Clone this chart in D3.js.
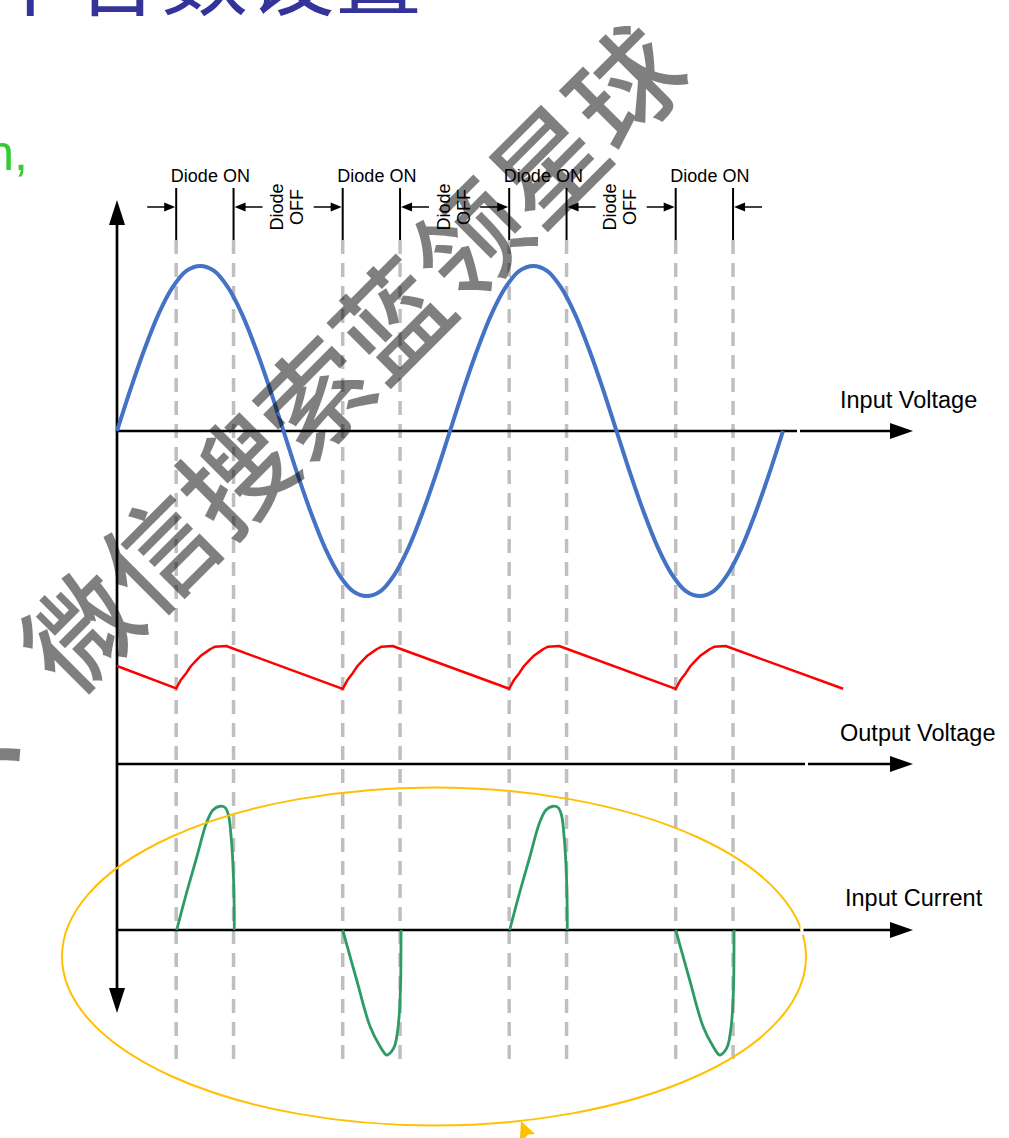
<!DOCTYPE html>
<html>
<head>
<meta charset="utf-8">
<script src="https://cdn.jsdelivr.net/npm/d3@7"></script>
<style>
  body { margin: 0; background: #fff; }
  svg { display: block; }
</style>
</head>
<body>
<svg id="chart" width="1009" height="1138"></svg>
<script>
// phase in degrees
const edges = [64, 126, 244, 306, 424, 486, 604, 666];
const onLabel = 'Diode ON';
const offLabel = ['Diode', 'OFF'];
const axisLabels = ['Input Voltage', 'Output Voltage', 'Input Current'];

const vinPhase = [0, 15, 30, 45, 60, 75, 90, 105, 120, 135, 150, 165, 180, 195, 210, 225, 240, 255, 270, 285, 300, 315, 330, 345,
  360, 375, 390, 405, 420, 435, 450, 465, 480, 495, 510, 525, 540, 555, 570, 585, 600, 615, 630, 645, 660, 675, 690, 705, 720];
const vinValues = [0, 0.26, 0.5, 0.71, 0.87, 0.97, 1, 0.97, 0.87, 0.71, 0.5, 0.26, 0, -0.26, -0.5, -0.71, -0.87, -0.97, -1, -0.97, -0.87, -0.71, -0.5, -0.26,
  0, 0.26, 0.5, 0.71, 0.87, 0.97, 1, 0.97, 0.87, 0.71, 0.5, 0.26, 0, -0.26, -0.5, -0.71, -0.87, -0.97, -1, -0.97, -0.87, -0.71, -0.5, -0.26, 0];

const voutPhase = [0,
  64, 69, 75, 80, 86, 91, 97, 101, 106, 118,
  244, 249, 255, 260, 266, 271, 277, 281, 286, 298,
  424, 429, 435, 440, 446, 451, 457, 461, 466, 478,
  604, 609, 615, 620, 626, 631, 637, 641, 646, 658,
  785];
const voutValues = [0.594,
  0.458, 0.509, 0.552, 0.594, 0.630, 0.658, 0.681, 0.697, 0.711, 0.715,
  0.455, 0.507, 0.552, 0.594, 0.630, 0.658, 0.681, 0.697, 0.711, 0.715,
  0.456, 0.508, 0.552, 0.594, 0.630, 0.658, 0.681, 0.697, 0.711, 0.715,
  0.455, 0.507, 0.552, 0.594, 0.630, 0.658, 0.681, 0.697, 0.711, 0.715,
  0.456];

const pulsePhase = [
  [64.5, 75.3, 86.1, 96.9, 103.8, 111.4, 116.8, 120.5, 123.2, 125.4, 126.5, 126.8],
  [244, 259.1, 273.5, 284.3, 291.6, 297, 300.5, 303.5, 305.2, 306.7, 307, 307.1],
  [424.5, 435.3, 446.1, 456.9, 463.8, 471.4, 476.8, 480.5, 483.2, 485.4, 486.5, 486.8],
  [604, 619.1, 633.5, 644.3, 651.6, 657, 660.5, 663.5, 665.2, 666.7, 667, 667.1]
];
const pulseValues = [
  [0, 0.30, 0.58, 0.86, 0.96, 0.99, 0.98, 0.92, 0.76, 0.52, 0.26, 0],
  [0, -0.40, -0.77, -0.93, -1, -0.97, -0.92, -0.80, -0.67, -0.40, -0.13, 0],
  [0, 0.30, 0.58, 0.86, 0.96, 0.99, 0.98, 0.92, 0.76, 0.52, 0.26, 0],
  [0, -0.40, -0.77, -0.93, -1, -0.97, -0.92, -0.80, -0.67, -0.40, -0.13, 0]
];

const titleText = '中各数设置';
const sideText = 'n,';
const watermark = '、微信搜索蓝领星球';

const latin = "'Liberation Sans', Arial, sans-serif";
const cjk = "'Noto Sans CJK SC', sans-serif";

const svg = d3.select('#chart');

const x = d3.scaleLinear().domain([0, 720]).range([117, 783]);
const yIn = d3.scaleLinear().domain([-1, 1]).range([596, 266]);
const yOut = d3.scaleLinear().domain([0, 1]).range([764, 599]);
const yCur = d3.scaleLinear().domain([-1, 1]).range([1055, 805]);

const xAxisLeft = 117;
const xAxisEnd = 913;

const arrowHead = (g, tx, ty, dir, len, half, color = '#000') => {
  let pts;
  if (dir === 'right') pts = [[tx, ty], [tx - len, ty - half], [tx - len, ty + half]];
  if (dir === 'left') pts = [[tx, ty], [tx + len, ty - half], [tx + len, ty + half]];
  if (dir === 'up') pts = [[tx, ty], [tx - half, ty + len], [tx + half, ty + len]];
  if (dir === 'down') pts = [[tx, ty], [tx - half, ty - len], [tx + half, ty - len]];
  g.append('polygon').attr('points', pts.map((p) => p.join(',')).join(' ')).style('fill', color);
};

svg.append('rect').attr('width', 1009).attr('height', 1138).style('fill', '#fff');

// cropped slide text
svg.append('text')
  .attr('x', -13).attr('y', 9)
  .style('font-family', cjk).style('font-size', '87px').style('fill', '#333399')
  .text(titleText);

svg.append('text')
  .attr('x', 28).attr('y', 170)
  .attr('text-anchor', 'end')
  .style('font-family', latin).style('font-size', '50px').style('fill', '#33cc33')
  .text(sideText);

// dashed guides and top markers
const guides = svg.append('g');
guides.selectAll('line.dash')
  .data(edges)
  .enter()
  .append('line')
  .attr('x1', (d) => x(d)).attr('x2', (d) => x(d))
  .attr('y1', 240).attr('y2', 1065)
  .style('stroke', '#bfbfbf').style('stroke-width', 3.5).style('stroke-dasharray', '14,9');

guides.selectAll('line.tick')
  .data(edges)
  .enter()
  .append('line')
  .attr('x1', (d) => x(d)).attr('x2', (d) => x(d))
  .attr('y1', 188).attr('y2', 240)
  .style('stroke', '#000').style('stroke-width', 2);

const ann = svg.append('g');
const onPairs = d3.range(edges.length / 2).map((i) => [edges[2 * i], edges[2 * i + 1]]);

onPairs.forEach(([a, b]) => {
  const xa = x(a);
  const xb = x(b);
  ann.append('line').attr('x1', xa - 29).attr('x2', xa - 8).attr('y1', 207).attr('y2', 207)
    .style('stroke', '#000').style('stroke-width', 1.5);
  arrowHead(ann, xa - 1, 207, 'right', 11, 4.5);
  ann.append('line').attr('x1', xb + 29).attr('x2', xb + 8).attr('y1', 207).attr('y2', 207)
    .style('stroke', '#000').style('stroke-width', 1.5);
  arrowHead(ann, xb + 1, 207, 'left', 11, 4.5);

  ann.append('text')
    .attr('x', (xa + xb) / 2 + 5.5).attr('y', 182)
    .attr('text-anchor', 'middle')
    .style('font-family', latin).style('font-size', '18px')
    .text(onLabel);
});

for (let i = 0; i < onPairs.length - 1; i++) {
  const c = (x(onPairs[i][1]) + x(onPairs[i + 1][0])) / 2;
  const t = ann.append('g').attr('transform', `translate(${c}, 207) rotate(-90)`);
  offLabel.forEach((s, j) => {
    t.append('text')
      .attr('x', 0).attr('y', j === 0 ? -5 : 15)
      .attr('text-anchor', 'middle')
      .style('font-family', latin).style('font-size', '18px')
      .text(s);
  });
}

// axes
const axes = svg.append('g');
axes.append('line').attr('x1', xAxisLeft).attr('x2', xAxisLeft).attr('y1', 220).attr('y2', 993)
  .style('stroke', '#000').style('stroke-width', 2.7);
arrowHead(axes, xAxisLeft, 200, 'up', 25, 8);
arrowHead(axes, xAxisLeft, 1013, 'down', 25, 8);

const baselines = [yIn(0), yOut(0), yCur(0)];
const labelPos = [[840, 408], [840, 741], [845, 906]];
baselines.forEach((y0, i) => {
  axes.append('line').attr('x1', xAxisLeft).attr('x2', xAxisEnd - 20).attr('y1', y0).attr('y2', y0)
    .style('stroke', '#000').style('stroke-width', 2.7);
  arrowHead(axes, xAxisEnd, y0, 'right', 23, 8);
  axes.append('text')
    .attr('x', labelPos[i][0]).attr('y', labelPos[i][1])
    .style('font-family', latin).style('font-size', '23.5px')
    .text(axisLabels[i]);
});

// waveforms
const vin = vinPhase.map((p, i) => [p, vinValues[i]]);
svg.append('path')
  .datum(vin)
  .attr('d', d3.line().x((d) => x(d[0])).y((d) => yIn(d[1])).curve(d3.curveCatmullRom))
  .style('fill', 'none').style('stroke', '#4472c4').style('stroke-width', 4);

const vout = voutPhase.map((p, i) => [p, voutValues[i]]);
svg.append('path')
  .datum(vout)
  .attr('d', d3.line().x((d) => x(d[0])).y((d) => yOut(d[1])))
  .style('fill', 'none').style('stroke', '#ff0000').style('stroke-width', 2.5).style('stroke-linejoin', 'round');

const pulses = pulsePhase.map((ph, k) => ph.map((p, i) => [p, pulseValues[k][i]]));
svg.selectAll('path.pulse')
  .data(pulses)
  .enter()
  .append('path')
  .attr('class', 'pulse')
  .attr('d', d3.line().x((d) => x(d[0])).y((d) => yCur(d[1])).curve(d3.curveCatmullRom))
  .style('fill', 'none').style('stroke', '#2e9b65').style('stroke-width', 2.8);

// highlight ellipse
svg.append('ellipse')
  .attr('cx', 434).attr('cy', 956.5).attr('rx', 372).attr('ry', 169)
  .style('fill', 'none').style('stroke', '#ffc000').style('stroke-width', 2);

svg.append('polygon')
  .attr('points', '521,1121 535,1134 528,1134.5 525,1138 520,1138')
  .style('fill', '#ffc000');

// small breaks in the axis lines
[[797, yIn(0)], [805, yOut(0)], [800.5, yCur(0)]].forEach(([gx, gy]) => {
  svg.append('rect').attr('x', gx).attr('y', gy - 5).attr('width', 3).attr('height', 10).style('fill', '#fff');
});

// watermark
svg.append('text')
  .attr('transform', 'translate(-40, 743) rotate(-45)')
  .attr('dominant-baseline', 'central')
  .style('font-family', cjk).style('font-size', '110px').style('font-weight', 500)
  .style('fill', 'rgba(0,0,0,0.5)')
  .text(watermark);
</script>
</body>
</html>
